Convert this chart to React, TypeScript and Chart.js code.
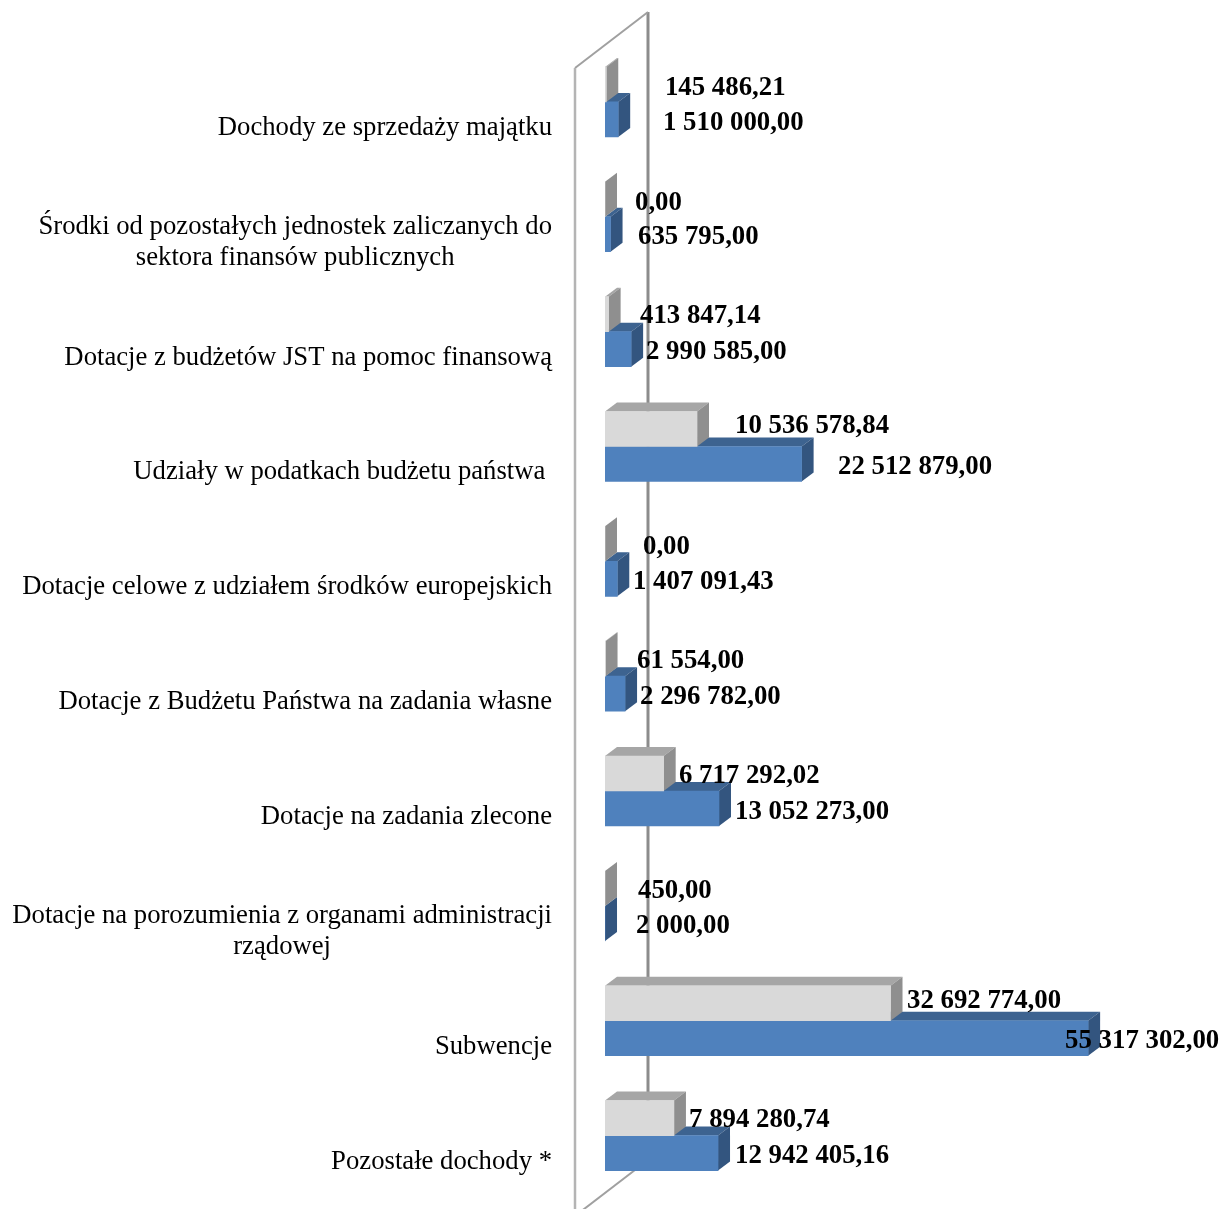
import React, { useEffect, useRef } from "react";
import { Chart, registerables } from "chart.js";

Chart.register(...registerables);

const categories: string[][] = [
  ["Dochody ze sprzedaży majątku"],
  ["Środki od pozostałych jednostek zaliczanych do", "sektora finansów publicznych"],
  ["Dotacje z budżetów JST na pomoc finansową"],
  ["Udziały w podatkach budżetu państwa "],
  ["Dotacje celowe z udziałem środków europejskich"],
  ["Dotacje z Budżetu Państwa na zadania własne"],
  ["Dotacje na zadania zlecone"],
  ["Dotacje na porozumienia z organami administracji", "rządowej"],
  ["Subwencje"],
  ["Pozostałe dochody *"],
];

const grayValues = [145486.21, 0, 413847.14, 10536578.84, 0, 61554, 6717292.02, 450, 32692774, 7894280.74];
const blueValues = [1510000, 635795, 2990585, 22512879, 1407091.43, 2296782, 13052273, 2000, 55317302, 12942405.16];

// hand-placed data label offsets from the bar end / bar centre, as in the original
const grayLabelDx = [58.7, 30, 31.4, 38, 38, 31.5, 15.3, 33, 16.5, 15.1];
const grayLabelDy = [2.5, 2.6, 0.7, -4.2, 1.9, 1, 1.1, 1.2, -3.7, 0.4];
const blueLabelDx = [44.8, 27.5, 14.9, 36.4, 15.7, 15, 16, 31, -23, 17];
const blueLabelDy = [2.5, 1.6, 1.7, 1.8, 1.9, 2, 2.1, 1.2, 1.3, 1.4];

const DEPTH_X = 12;
const DEPTH_Y = 9;
const SERIF = '"Liberation Serif", serif';

const formatPl = (v: number) => {
  const [i, d] = v.toFixed(2).split(".");
  return i.replace(/\B(?=(\d{3})+$)/g, " ") + "," + d;
};

const poly = (ctx: CanvasRenderingContext2D, pts: number[][], fill: string) => {
  ctx.beginPath();
  pts.forEach(([x, y], i) => (i ? ctx.lineTo(x, y) : ctx.moveTo(x, y)));
  ctx.closePath();
  ctx.fillStyle = fill;
  ctx.fill();
};

const shades = [
  { top: "#A6A6A6", side: "#8F8F8F" },
  { top: "#3D6390", side: "#33557F" },
];

const bar3d = {
  id: "bar3d",
  beforeDatasetsDraw(chart: any) {
    const { ctx, chartArea: a } = chart;
    ctx.save();
    ctx.lineCap = "butt";
    // back wall and floor edge
    ctx.strokeStyle = "#8C8C8C";
    ctx.lineWidth = 3;
    ctx.beginPath();
    ctx.moveTo(a.left + 43, 12);
    ctx.lineTo(a.left + 43, 1165);
    ctx.stroke();
    ctx.strokeStyle = "#A0A0A0";
    ctx.lineWidth = 2;
    ctx.beginPath();
    ctx.moveTo(a.left - 30, 68);
    ctx.lineTo(a.left + 43, 12);
    ctx.stroke();
    ctx.beginPath();
    ctx.moveTo(a.left - 30, 1216);
    ctx.lineTo(a.left + 43, 1160);
    ctx.stroke();
    ctx.strokeStyle = "#B4B4B4";
    ctx.lineWidth = 2.5;
    ctx.beginPath();
    ctx.moveTo(a.left - 30, 68);
    ctx.lineTo(a.left - 30, 1209);
    ctx.stroke();
    ctx.restore();
  },
  beforeDatasetDraw(chart: any, args: any) {
    const { ctx } = chart;
    const meta = chart.getDatasetMeta(args.index);
    const shade = shades[args.index];
    ctx.save();
    meta.data.forEach((el: any) => {
      const { x, y, base, height } = el.getProps(["x", "y", "base", "height"], true);
      const top = y - height / 2;
      const bottom = y + height / 2;
      poly(ctx, [[base, top], [base + DEPTH_X, top - DEPTH_Y], [x + DEPTH_X, top - DEPTH_Y], [x, top]], shade.top);
      poly(ctx, [[x, top], [x + DEPTH_X, top - DEPTH_Y], [x + DEPTH_X, bottom - DEPTH_Y], [x, bottom]], shade.side);
    });
    ctx.restore();
  },
  afterDraw(chart: any) {
    const { ctx } = chart;
    const yScale = chart.scales.y;
    ctx.save();
    // category labels: right edge shared, wrapped lines centred in their block
    ctx.font = `26.7px ${SERIF}`;
    ctx.fillStyle = "#000";
    ctx.textBaseline = "middle";
    ctx.textAlign = "center";
    categories.forEach((lines, i) => {
      const cy = yScale.getPixelForValue(i) + 26;
      const w = Math.max(...lines.map((l) => ctx.measureText(l).width));
      lines.forEach((line, j) => {
        ctx.fillText(line, 552 - w / 2, cy + (j - (lines.length - 1) / 2) * 31);
      });
    });
    // data labels
    ctx.font = `bold 26.8px ${SERIF}`;
    ctx.textAlign = "left";
    [grayLabelDx, blueLabelDx].forEach((dxs, d) => {
      const dys = d === 0 ? grayLabelDy : blueLabelDy;
      chart.getDatasetMeta(d).data.forEach((el: any, i: number) => {
        const text = formatPl(chart.data.datasets[d].data[i]);
        ctx.fillText(text, el.x + dxs[i], el.y + dys[i] + 1.5);
      });
    });
    ctx.restore();
  },
};

export default function App() {
  const ref = useRef<HTMLCanvasElement>(null);
  useEffect(() => {
    document.body.style.margin = "0";
    const chart = new Chart(ref.current!, {
      type: "bar",
      data: {
        labels: categories.map((c) => c.join(" ")),
        datasets: [
          { label: "Wykonanie", data: grayValues, backgroundColor: "#D9D9D9" },
          { label: "Plan", data: blueValues, backgroundColor: "#4F81BD" },
        ],
      },
      options: {
        indexAxis: "y",
        responsive: false,
        animation: false,
        devicePixelRatio: 1,
        layout: { padding: { left: 605, right: 93, top: 44.5, bottom: 16 } },
        datasets: { bar: { barThickness: 35, categoryPercentage: 0.62, barPercentage: 1 } },
        plugins: { legend: { display: false }, tooltip: { enabled: false }, title: { display: false } },
        scales: {
          x: { display: false, min: 0, max: 60000000 },
          y: { display: false },
        },
      },
      plugins: [bar3d],
    } as any);
    return () => chart.destroy();
  }, []);
  return <canvas ref={ref} width={1222} height={1209} style={{ display: "block" }} />;
}
